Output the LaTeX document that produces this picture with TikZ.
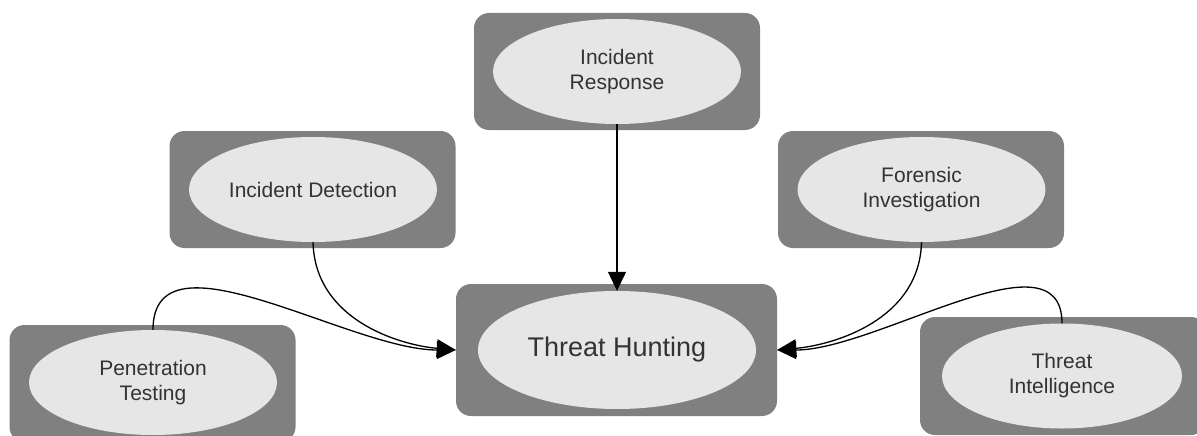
\documentclass[tikz,border=0pt]{standalone}
\usepackage{fontspec}
\setmainfont{Liberation Sans}
\usetikzlibrary{shapes.geometric,arrows.meta}
\definecolor{panelgray}{HTML}{808080}
\definecolor{bubblegray}{HTML}{E6E6E6}
\definecolor{ink}{HTML}{333333}
\begin{document}
\begin{tikzpicture}[x=1pt,y=-1pt,
  panel/.style={draw=none, fill=panelgray, rounded corners=15pt,
    minimum width=286pt, minimum height=117pt, inner sep=0pt},
  bubble/.style={ellipse, fill=bubblegray, draw=none, inner sep=0pt,
    minimum width=248pt, minimum height=105pt, text=ink,
    font=\fontsize{21}{25}\selectfont, align=center},
  link/.style={draw=black, line width=1.3pt,
    -{Triangle[length=19pt,width=18pt]}}
]
\useasboundingbox (0,0) rectangle (1197,436);

% central target
\node[panel, minimum width=321pt, minimum height=132pt] (thB) at (616.5,350) {};
\node[bubble, minimum width=278pt, minimum height=118pt,
      font=\fontsize{27}{32}\selectfont] (thE) at (617,350) {Threat Hunting};

% top
\node[panel] (irB) at (617,71.5) {};
\node[bubble] (irE) at (617,71.5) {Incident\\Response};

% upper left / right
\node[panel] (idB) at (312.5,189.5) {};
\node[bubble] (idE) at (313,189.5) {Incident Detection};

\node[panel] (fiB) at (921,189.5) {};
\node[bubble] (fiE) at (921.5,189.5) {Forensic\\Investigation};

% lower left / right
\node[panel] (ptB) at (152.5,383.5) {};
\node[bubble] (ptE) at (153,382.5) {Penetration\\Testing};

\node[panel, minimum height=118pt] (tiB) at (1063,376) {};
\node[bubble, minimum width=240pt] (tiE) at (1062,376) {Threat\\Intelligence};

% connectors
\draw[link] (irE.south) -- (thE.north);
\draw[link] (idE.south) .. controls +(2,78) and +(-56,-5) .. (thB.west);
\draw[link] (ptE.north) .. controls +(0,-105) and +(-106,0) .. (thB.west);
\draw[link] (fiE.south) .. controls +(-2,78) and +(56,-5) .. (thB.east);
\draw[link] (tiE.north) .. controls +(0,-95) and +(100,0) .. (thB.east);
\end{tikzpicture}
\end{document}
